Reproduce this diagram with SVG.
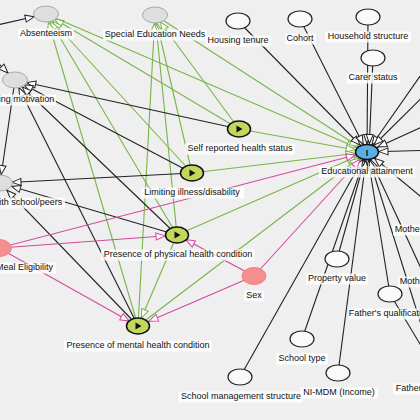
<svg xmlns="http://www.w3.org/2000/svg" width="420" height="420" viewBox="0 0 420 420">
<defs>
<style>
.e{fill:none;stroke-width:1.1}
.g{stroke:#78b548}
.k{stroke:#222}
.p{stroke:#d4489b}
.lbl{fill:#fff;opacity:0.8}
text{font-family:"Liberation Sans",Arial,sans-serif;font-size:9px;fill:#111;text-anchor:middle}
.grey{fill:#dedede;stroke:#a8a8a8;stroke-width:1}
.white{fill:#fafafa;stroke:#222;stroke-width:1.2}
.expo{fill:#c3d75b;stroke:#111;stroke-width:1.5}
.outc{fill:#5aaee3;stroke:#111;stroke-width:1.5}
.conf{fill:#f58f8f;stroke:#f08080;stroke-width:1}
</style>
<marker id="g12" markerUnits="userSpaceOnUse" orient="auto" refX="12" refY="0" markerWidth="1" markerHeight="1" overflow="visible"><path d="M0,0 L-9,-3.5 L-9,3.5 Z" fill="#fff" stroke="#78b548" stroke-width="1"/></marker>
<marker id="g10" markerUnits="userSpaceOnUse" orient="auto" refX="10" refY="0" markerWidth="1" markerHeight="1" overflow="visible"><path d="M0,0 L-9,-3.5 L-9,3.5 Z" fill="#fff" stroke="#78b548" stroke-width="1"/></marker>
<marker id="g8" markerUnits="userSpaceOnUse" orient="auto" refX="8.5" refY="0" markerWidth="1" markerHeight="1" overflow="visible"><path d="M0,0 L-9,-3.5 L-9,3.5 Z" fill="#fff" stroke="#78b548" stroke-width="1"/></marker>
<marker id="k12" markerUnits="userSpaceOnUse" orient="auto" refX="12" refY="0" markerWidth="1" markerHeight="1" overflow="visible"><path d="M0,0 L-9,-3.5 L-9,3.5 Z" fill="#fff" stroke="#222" stroke-width="1"/></marker>
<marker id="k10" markerUnits="userSpaceOnUse" orient="auto" refX="10" refY="0" markerWidth="1" markerHeight="1" overflow="visible"><path d="M0,0 L-9,-3.5 L-9,3.5 Z" fill="#fff" stroke="#222" stroke-width="1"/></marker>
<marker id="k8" markerUnits="userSpaceOnUse" orient="auto" refX="8.5" refY="0" markerWidth="1" markerHeight="1" overflow="visible"><path d="M0,0 L-9,-3.5 L-9,3.5 Z" fill="#fff" stroke="#222" stroke-width="1"/></marker>
<marker id="p12" markerUnits="userSpaceOnUse" orient="auto" refX="12" refY="0" markerWidth="1" markerHeight="1" overflow="visible"><path d="M0,0 L-9,-3.5 L-9,3.5 Z" fill="#fff" stroke="#d4489b" stroke-width="1"/></marker>
<marker id="p10" markerUnits="userSpaceOnUse" orient="auto" refX="10" refY="0" markerWidth="1" markerHeight="1" overflow="visible"><path d="M0,0 L-9,-3.5 L-9,3.5 Z" fill="#fff" stroke="#d4489b" stroke-width="1"/></marker>
</defs>
<rect width="420" height="420" fill="#efefef"/>
<g id="edges">
<!-- green causal -->
<line class="e g" x1="239" y1="129" x2="46" y2="14" marker-end="url(#g10)"/>
<line class="e g" x1="192" y1="173" x2="46" y2="14" marker-end="url(#g10)"/>
<line class="e g" x1="177" y1="235" x2="46" y2="14" marker-end="url(#g8)"/>
<line class="e g" x1="138" y1="326" x2="46" y2="14" marker-end="url(#g8)"/>
<line class="e g" x1="239" y1="129" x2="155" y2="15" marker-end="url(#g8)"/>
<line class="e g" x1="192" y1="173" x2="155" y2="15" marker-end="url(#g8)"/>
<line class="e g" x1="177" y1="235" x2="155" y2="15" marker-end="url(#g8)"/>
<line class="e g" x1="138" y1="326" x2="155" y2="15" marker-end="url(#g8)"/>
<line class="e g" x1="46" y1="14" x2="367" y2="152" marker-end="url(#g12)"/>
<line class="e g" x1="155" y1="15" x2="367" y2="152" marker-end="url(#g10)"/>
<line class="e g" x1="239" y1="129" x2="367" y2="152" marker-end="url(#g12)"/>
<line class="e g" x1="192" y1="173" x2="367" y2="152" marker-end="url(#g12)"/>
<line class="e g" x1="177" y1="235" x2="367" y2="152" marker-end="url(#g12)"/>
<line class="e g" x1="138" y1="326" x2="367" y2="152" marker-end="url(#g10)"/>
<line class="e g" x1="177" y1="235" x2="138" y2="326" marker-end="url(#g8)"/>
<!-- black -->
<line class="e k" x1="-60" y1="38" x2="46" y2="14" marker-end="url(#k12)"/>
<line class="e k" x1="-30" y1="35" x2="15" y2="80" marker-end="url(#k10)"/>
<line class="e k" x1="239" y1="129" x2="15" y2="80" marker-end="url(#k12)"/>
<line class="e k" x1="192" y1="173" x2="15" y2="80" marker-end="url(#k10)"/>
<line class="e k" x1="177" y1="235" x2="15" y2="80" marker-end="url(#k10)"/>
<line class="e k" x1="138" y1="326" x2="15" y2="80" marker-end="url(#k8)"/>
<line class="e k" x1="15" y1="80" x2="0" y2="183" marker-end="url(#k8)"/>
<line class="e k" x1="192" y1="173" x2="0" y2="183" marker-end="url(#k12)"/>
<line class="e k" x1="177" y1="235" x2="0" y2="183" marker-end="url(#k12)"/>
<line class="e k" x1="138" y1="326" x2="0" y2="183" marker-end="url(#k10)"/>
<line class="e k" x1="238" y1="21" x2="367" y2="152" marker-end="url(#k10)"/>
<line class="e k" x1="300" y1="19" x2="367" y2="152" marker-end="url(#k8)"/>
<line class="e k" x1="368" y1="17" x2="367" y2="152" marker-end="url(#k8)"/>
<line class="e k" x1="373" y1="58" x2="369" y2="152" marker-end="url(#k8)"/>
<line class="e k" x1="437" y1="52" x2="367" y2="152" marker-end="url(#k8)"/>
<line class="e k" x1="460" y1="60" x2="367" y2="152" marker-end="url(#k10)"/>
<line class="e k" x1="470" y1="105" x2="367" y2="152" marker-end="url(#k12)"/>
<line class="e k" x1="470" y1="149" x2="367" y2="152" marker-end="url(#k12)"/>
<line class="e k" x1="437" y1="210" x2="367" y2="152" marker-end="url(#k10)"/>
<line class="e k" x1="432" y1="292" x2="367" y2="152" marker-end="url(#k8)"/>
<line class="e k" x1="390" y1="294" x2="367" y2="152" marker-end="url(#k8)"/>
<line class="e k" x1="435" y1="369" x2="367" y2="152" marker-end="url(#k8)"/>
<line class="e k" x1="337" y1="259" x2="367" y2="152" marker-end="url(#k8)"/>
<line class="e k" x1="302" y1="339" x2="367" y2="152" marker-end="url(#k8)"/>
<line class="e k" x1="338" y1="373" x2="367" y2="152" marker-end="url(#k8)"/>
<line class="e k" x1="240" y1="377" x2="367" y2="152" marker-end="url(#k8)"/>
<line class="e k" x1="390" y1="294" x2="435" y2="369" marker-end="url(#k8)"/>
<!-- pink biasing -->
<line class="e p" x1="-1" y1="248" x2="177" y2="235" marker-end="url(#p12)"/>
<line class="e p" x1="-1" y1="248" x2="138" y2="326" marker-end="url(#p10)"/>
<line class="e p" x1="-1" y1="248" x2="367" y2="152" marker-end="url(#p12)"/>
<line class="e p" x1="254" y1="276" x2="177" y2="235" marker-end="url(#p10)"/>
<line class="e p" x1="254" y1="276" x2="138" y2="326" marker-end="url(#p12)"/>
<line class="e p" x1="254" y1="276" x2="367" y2="152" marker-end="url(#p10)"/>
</g>
<g id="absenteeism"><ellipse class="grey" cx="46" cy="14" rx="12.5" ry="8"/><rect class="lbl" x="18" y="28.5" width="56" height="11"/><text x="46" y="35.5">Absenteeism</text></g>
<g id="sen"><ellipse class="grey" cx="155" cy="15" rx="12.5" ry="8"/><rect class="lbl" x="103" y="29.5" width="104" height="11"/><text x="155" y="36.5">Special Education Needs</text></g>
<g id="housing-tenure"><ellipse class="white" cx="238" cy="21" rx="12" ry="8"/><rect class="lbl" x="206" y="35.5" width="65" height="11"/><text x="238" y="42.5">Housing tenure</text></g>
<g id="cohort"><ellipse class="white" cx="300" cy="19" rx="12" ry="8"/><rect class="lbl" x="285" y="33.5" width="31" height="11"/><text x="300" y="40.5">Cohort</text></g>
<g id="household-structure"><ellipse class="white" cx="368" cy="17" rx="12" ry="8"/><rect class="lbl" x="325" y="31.5" width="86" height="11"/><text x="368" y="38.5">Household structure</text></g>
<g id="carer-status"><ellipse class="white" cx="373" cy="58" rx="12" ry="8"/><rect class="lbl" x="347" y="72.5" width="53" height="11"/><text x="373" y="79.5">Carer status</text></g>
<g id="learning-motivation"><ellipse class="grey" cx="15" cy="80" rx="12.5" ry="8"/><rect class="lbl" x="-26" y="94.5" width="82" height="11"/><text x="15" y="101.5">Learning motivation</text></g>
<g id="relationship"><ellipse class="grey" cx="0" cy="183" rx="12.5" ry="8"/><rect class="lbl" x="-62" y="197.5" width="127" height="11"/><text x="1.5" y="204.5">Relationship with school/peers</text></g>
<g id="fsme"><ellipse class="conf" cx="-1" cy="248" rx="12.5" ry="8.5"/><rect class="lbl" x="-56" y="262.5" width="112" height="11"/><text x="-1" y="269.5">Free School Meal Eligibility</text></g>
<g id="self-reported"><ellipse class="expo" cx="239" cy="129" rx="11.5" ry="8"/><polygon points="236.5,125.5 236.5,132.5 242.5,129" fill="#111"/><rect class="lbl" x="185" y="143.5" width="110" height="11"/><text x="240" y="150.5">Self reported health status</text></g>
<g id="limiting-illness"><ellipse class="expo" cx="192" cy="173" rx="11.5" ry="8"/><polygon points="189.5,169.5 189.5,176.5 195.5,173" fill="#111"/><rect class="lbl" x="141" y="187.5" width="103" height="11"/><text x="192" y="194.5">Limiting illness/disability</text></g>
<g id="physical"><ellipse class="expo" cx="177" cy="235" rx="11.5" ry="8"/><polygon points="174.5,231.5 174.5,238.5 180.5,235" fill="#111"/><rect class="lbl" x="101" y="249.5" width="154" height="11"/><text x="178" y="256.5">Presence of physical health condition</text></g>
<g id="mental"><ellipse class="expo" cx="138" cy="326" rx="11.5" ry="8"/><polygon points="135.5,322.5 135.5,329.5 141.5,326" fill="#111"/><rect class="lbl" x="64" y="340.5" width="148" height="11"/><text x="138" y="347.5">Presence of mental health condition</text></g>
<g id="sex"><ellipse class="conf" cx="254" cy="276" rx="12" ry="8.5"/><rect class="lbl" x="244" y="290.5" width="20" height="11"/><text x="254" y="297.5">Sex</text></g>
<g id="educational-attainment"><ellipse class="outc" cx="367" cy="152" rx="11.5" ry="7.5"/><text x="367" y="155.5" style="font-weight:bold;font-size:9px">I</text><rect class="lbl" x="319" y="166.5" width="96" height="11"/><text x="367" y="173.5">Educational attainment</text></g>
<g id="property-value"><ellipse class="white" cx="337" cy="259" rx="12" ry="8"/><rect class="lbl" x="306" y="273.5" width="62" height="11"/><text x="337" y="280.5">Property value</text></g>
<g id="school-type"><ellipse class="white" cx="302" cy="339" rx="12" ry="8"/><rect class="lbl" x="276" y="353.5" width="52" height="11"/><text x="302" y="360.5">School type</text></g>
<g id="ni-mdm"><ellipse class="white" cx="338" cy="373" rx="12" ry="8"/><rect class="lbl" x="300" y="387.5" width="78" height="11"/><text x="339" y="394.5">NI-MDM (Income)</text></g>
<g id="school-management"><ellipse class="white" cx="240" cy="377" rx="12" ry="8"/><rect class="lbl" x="179" y="391.5" width="124" height="11"/><text x="241" y="398.5">School management structure</text></g>
<g id="fathers-qualification"><ellipse class="white" cx="390" cy="294" rx="12" ry="8"/><rect class="lbl" x="349" y="308.5" width="82" height="11"/><text x="390" y="315.5">Father's qualification</text></g>
<g id="mothers-qualification"><ellipse class="white" cx="437" cy="210" rx="12" ry="8"/><rect class="lbl" x="393" y="224.5" width="88" height="11"/><text x="437" y="231.5">Mother's qualification</text></g>
<g id="mothers-occupation"><ellipse class="white" cx="440" cy="262" rx="12" ry="8"/><rect class="lbl" x="398" y="276.5" width="84" height="11"/><text x="440" y="283.5">Mother's occupation</text></g>
<g id="fathers-occupation"><ellipse class="white" cx="435" cy="369" rx="12" ry="8"/><rect class="lbl" x="393" y="383.5" width="84" height="11"/><text x="435" y="390.5">Father's occupation</text></g>
</svg>
